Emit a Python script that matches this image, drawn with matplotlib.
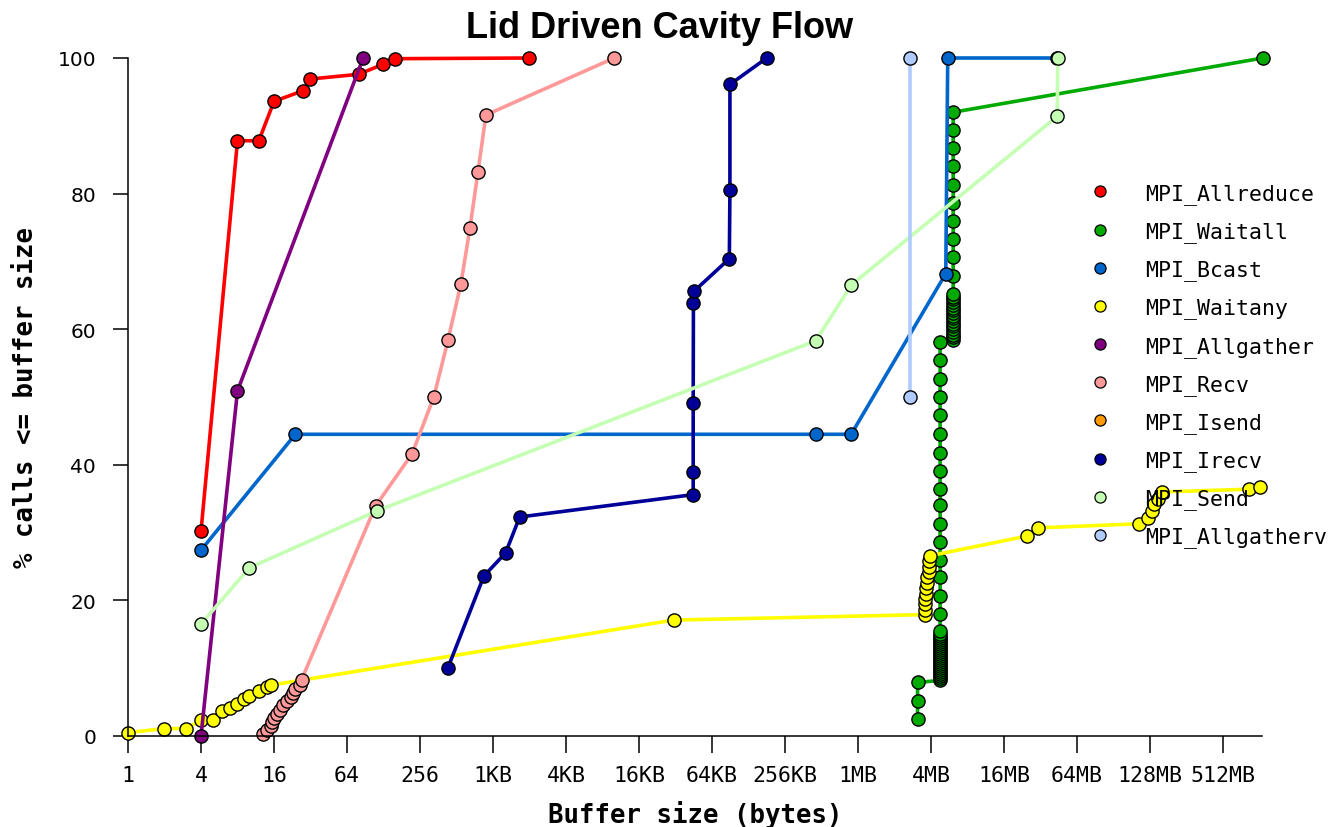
import matplotlib.pyplot as plt
from matplotlib.lines import Line2D

# x values are buffer sizes in bytes, y values are % of calls <= that size
KB = 1024
MB = 1024 * 1024

allreduce_x = [4, 8, 12, 16, 28, 32, 80, 128, 160, 2048]
allreduce_y = [30.2, 87.8, 87.8, 93.6, 95.2, 96.9, 97.6, 99.1, 99.9, 100]

waitall_x = ([3.1*MB]*3 + [4.76*MB]*24 + [4.76*MB]*17
             + [6.1*MB]*18 + [6.1*MB]*10 + [2.13*1024*MB])
waitall_y = [2.5, 5.1, 7.9,
             8.2, 8.5, 8.8, 9.1, 9.4, 9.7, 10.0, 10.3, 10.6, 10.9, 11.2, 11.5,
             11.8, 12.1, 12.4, 12.7, 13.0, 13.3, 13.6, 13.9, 14.2, 14.5, 14.8, 15.1,
             15.5, 18.0, 20.7, 23.4, 25.9, 28.6, 31.3, 34.0, 36.5, 39.1, 41.8,
             44.5, 47.3, 50.0, 52.7, 55.4, 58.1,
             58.4, 58.8, 59.2, 59.6, 60.0, 60.4, 60.8, 61.2, 61.6, 62.0, 62.4,
             62.8, 63.2, 63.6, 64.0, 64.4, 64.8, 65.2,
             67.9, 70.6, 73.3, 76.0, 78.6, 81.3, 84.0, 86.7, 89.4, 92.0,
             100]

bcast_x = [4, 24, 460*KB, 900*KB, 5.3*MB, 5.5*MB, 44*MB]
bcast_y = [27.4, 44.5, 44.5, 44.5, 68.2, 100, 100]

waitany_x = [1, 2, 3, 4, 5, 6, 7, 8, 9, 10, 12, 14, 15, 31*KB,
             3.54*MB, 3.54*MB, 3.6*MB, 3.6*MB, 3.67*MB, 3.67*MB, 3.74*MB, 3.74*MB,
             3.82*MB, 3.82*MB, 3.89*MB, 3.96*MB,
             25*MB, 30.8*MB, 209*MB, 248*MB, 268*MB, 278*MB, 296*MB, 324*MB,
             1.65*1024*MB, 2.04*1024*MB]
waitany_y = [0.5, 1.1, 1.1, 2.3, 2.4, 3.7, 4.1, 4.7, 5.5, 5.9, 6.7, 7.2, 7.5, 17.1,
             17.9, 18.6, 19.4, 20.2, 21.0, 21.8, 22.6, 23.4, 24.2, 25.0, 25.8, 26.6,
             29.5, 30.7, 31.3, 32.2, 33.2, 34.2, 35.0, 36.0,
             36.4, 36.7]

allgather_x = [4, 8, 87]
allgather_y = [0, 50.9, 100]

recv_x = [13, 14, 15, 15.5, 16, 17, 18, 19, 20.5, 22, 23, 24, 26, 27,
          110, 220, 333, 436, 557, 661, 770, 896, 10*KB]
recv_y = [0.3, 0.9, 1.5, 2.1, 2.7, 3.3, 3.9, 4.5, 5.1, 5.7, 6.3, 6.9, 7.5, 8.3,
          33.9, 41.6, 50.0, 58.4, 66.7, 74.9, 83.2, 91.6, 100]

isend_x = []
isend_y = []

irecv_x = [436, 862, 1300, 1700, 44.8*KB, 44.8*KB, 44.8*KB, 45*KB, 45.5*KB,
           89*KB, 90*KB, 90*KB, 181*KB]
irecv_y = [10.1, 23.6, 27.0, 32.3, 35.6, 38.9, 49.1, 63.9, 65.6, 70.4, 80.5, 96.1, 100]

send_x = [4, 10, 113, 460*KB, 900*KB, 44*MB, 44.5*MB]
send_y = [16.5, 24.8, 33.2, 58.3, 66.5, 91.4, 100]

allgatherv_x = [2.7*MB, 2.7*MB]
allgatherv_y = [50, 100]

tick_labels = ['1', '4', '16', '64', '256', '1KB', '4KB', '16KB', '64KB', '256KB',
               '1MB', '4MB', '16MB', '64MB', '128MB', '512MB']

series = [
    ('MPI_Allreduce', allreduce_x, allreduce_y, '#ff0000'),
    ('MPI_Waitall', waitall_x, waitall_y, '#00aa00'),
    ('MPI_Bcast', bcast_x, bcast_y, '#0066cc'),
    ('MPI_Waitany', waitany_x, waitany_y, '#ffff00'),
    ('MPI_Allgather', allgather_x, allgather_y, '#800080'),
    ('MPI_Recv', recv_x, recv_y, '#ff9999'),
    ('MPI_Isend', isend_x, isend_y, '#ff9900'),
    ('MPI_Irecv', irecv_x, irecv_y, '#000099'),
    ('MPI_Send', send_x, send_y, '#c4ffb4'),
    ('MPI_Allgatherv', allgatherv_x, allgatherv_y, '#b0ccff'),
]

W, H = 1339, 828
fig = plt.figure(figsize=(W/100, H/100), dpi=100)
ax = fig.add_axes([128/W, 1-737/H, (1262-128)/W, (737-59)/H])

handles = []
for name, xs, ys, col in series:
    ax.plot(xs, ys, color=col, lw=2.6, marker='o', ms=9.5, mfc=col, mec='black',
            mew=1.0, clip_on=False)
    handles.append(Line2D([], [], ls='none', marker='o', ms=8, mfc=col,
                          mec='black', mew=0.9, label=name))

ax.set_xscale('log', base=2)
ax.set_xlim(1, 2**31.07)
ax.set_ylim(0, 100)
ax.set_xticks([4**k for k in range(len(tick_labels))])
ax.set_xticklabels(tick_labels, family='DejaVu Sans Mono', fontsize=15.5)
ax.minorticks_off()
ax.set_yticks([0, 20, 40, 60, 80, 100])
ax.set_yticklabels(['0', '20', '40', '60', '80', '100'], family='DejaVu Sans', fontsize=14.5)
ax.tick_params(axis='x', length=12, width=1.1, pad=9)
ax.tick_params(axis='y', length=11, width=1.1, pad=12)

for s in ['top', 'right']:
    ax.spines[s].set_visible(False)
for s in ['left', 'bottom']:
    ax.spines[s].set_linewidth(1.1)

ax.set_xlabel('Buffer size (bytes)', family='DejaVu Sans Mono', fontweight='bold',
              fontsize=18.5, labelpad=11)
ax.set_ylabel('% calls <= buffer size', family='DejaVu Sans Mono', fontweight='bold',
              fontsize=18.5, labelpad=13)

fig.text(660/W, 1-38/H, 'Lid Driven Cavity Flow', family='Liberation Sans',
         fontweight='bold', fontsize=26, ha='center', va='baseline')

fig.legend(handles=handles, loc='upper left', bbox_to_anchor=(1089/W, 1-184/H),
           frameon=False, prop={'family': 'DejaVu Sans Mono', 'size': 15.5},
           handlelength=1.0, handletextpad=1.6, labelspacing=0.8,
           borderpad=0, borderaxespad=0)

fig.savefig('out.png', dpi=100)
